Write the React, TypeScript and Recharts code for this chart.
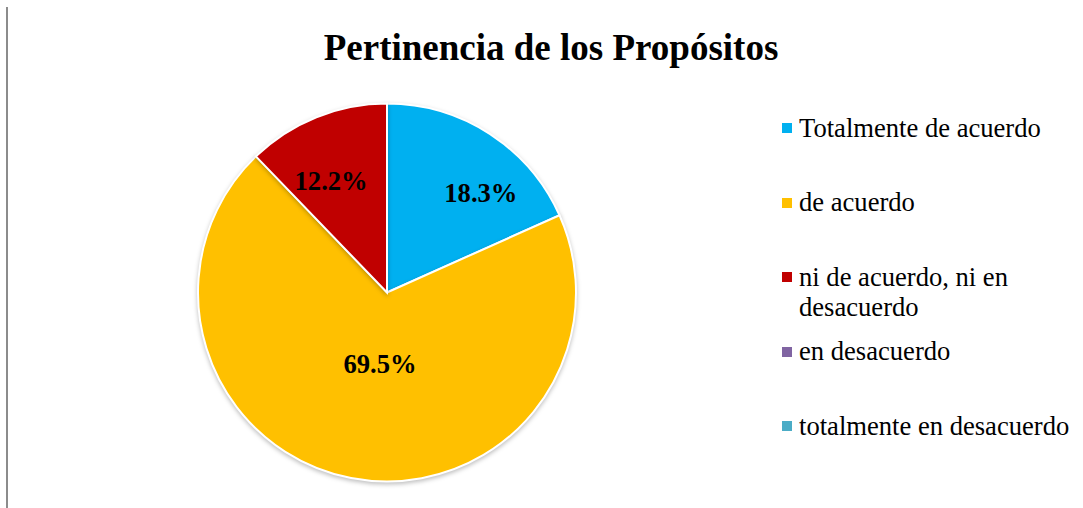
import React from "react";
import { Cell, Legend, Pie, PieChart } from "recharts";

// categories and values
const categories = [
  "Totalmente de acuerdo",
  "de acuerdo",
  "ni de acuerdo, ni en desacuerdo",
  "en desacuerdo",
  "totalmente en desacuerdo",
];
const percentages = [18.3, 69.5, 12.2, 0, 0];
const colors = ["#00B0F0", "#FFC000", "#C00000", "#8064A2", "#4BACC6"];

// label placement (radius in px, angle nudge in degrees) per slice
const labelNudge = [
  { r: 137, shift: -10.3 },
  { r: 72, shift: 5.4 },
  { r: 125, shift: 4.6 },
  { r: 0, shift: 0 },
  { r: 0, shift: 0 },
];

const chartData = categories.map((name, i) => ({
  name,
  value: percentages[i],
  color: colors[i],
}));

const RADIAN = Math.PI / 180;

const renderLabel = (props: any) => {
  const { cx, cy, midAngle, index, value } = props;
  if (!value) return null;
  const n = labelNudge[index];
  const a = (midAngle + n.shift) * RADIAN;
  const x = cx + n.r * Math.cos(a);
  const y = cy - n.r * Math.sin(a);
  return (
    <text
      x={x}
      y={y}
      textAnchor="middle"
      dominantBaseline="central"
      fill="#000"
      fontFamily="'Liberation Serif', 'Times New Roman', serif"
      fontWeight="bold"
      fontSize={26.6}
    >
      {`${value.toFixed(1)}%`}
    </text>
  );
};

const renderLegend = () => (
  <div style={{ fontFamily: "'Liberation Serif', 'Times New Roman', serif" }}>
    {chartData.map((entry, i) => (
      <div
        key={`legend-${i}`}
        style={{ display: "flex", alignItems: "flex-start", height: 74.5 }}
      >
        <div
          style={{
            width: 10,
            height: 10,
            marginTop: 10.5,
            marginRight: 7,
            background: entry.color,
            flex: "none",
          }}
        />
        <div
          style={{
            width: 275,
            fontSize: 26.6,
            lineHeight: "30px",
            color: "#000",
          }}
        >
          {entry.name}
        </div>
      </div>
    ))}
  </div>
);

export default function App() {
  return (
    <div
      style={{
        position: "absolute",
        left: 0,
        top: 0,
        width: 1083,
        height: 508,
        background: "#fff",
        overflow: "hidden",
      }}
    >
      <style>{`.pie-shadow .recharts-pie-sector { filter: drop-shadow(0px 2px 2px rgba(0,0,0,0.25)); }`}</style>
      {/* page edge line on the left */}
      <div
        style={{
          position: "absolute",
          left: 6,
          top: 7,
          width: 2,
          height: 501,
          background: "#8c8c8c",
        }}
      />
      {/* title */}
      <div
        style={{
          position: "absolute",
          left: 0,
          width: 1102,
          top: 28.5,
          textAlign: "center",
          fontFamily: "'Liberation Serif', 'Times New Roman', serif",
          fontWeight: "bold",
          fontSize: 37,
          lineHeight: "37px",
          color: "#000",
          whiteSpace: "nowrap",
        }}
      >
        Pertinencia de los Propósitos
      </div>
      <PieChart
        width={1083}
        height={508}
        margin={{ top: 0, right: 0, bottom: 0, left: 0 }}
      >
        <Pie
          className="pie-shadow"
          data={chartData}
          cx={387}
          cy={292.5}
          innerRadius={0}
          outerRadius={189}
          dataKey="value"
          nameKey="name"
          startAngle={90}
          endAngle={-270}
          stroke="#fff"
          strokeWidth={2}
          label={renderLabel}
          labelLine={false}
          isAnimationActive={false}
        >
          {chartData.map((entry, index) => (
            <Cell key={`cell-${index}`} fill={entry.color} />
          ))}
        </Pie>
        <Legend
          layout="vertical"
          content={renderLegend}
          wrapperStyle={{ position: "absolute", left: 782, top: 112.5, width: 300 }}
        />
      </PieChart>
    </div>
  );
}
